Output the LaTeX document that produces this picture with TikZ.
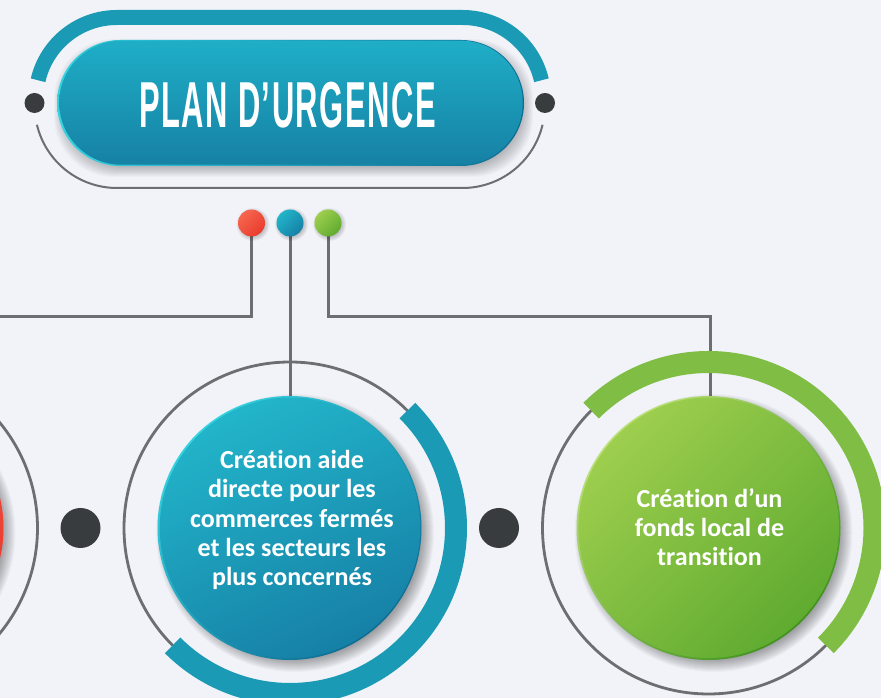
\documentclass[tikz,border=0pt]{standalone}
\usepackage{fontspec}
\setmainfont{Carlito}[Ligatures=NoCommon]
\newfontfamily\titlefont{Liberation Sans}[LetterSpace=5]
\usetikzlibrary{shapes.misc}
\definecolor{pagebg}{HTML}{F1F3F8}
\definecolor{linegray}{HTML}{6D6E71}
\definecolor{darkdot}{HTML}{393C3F}
\definecolor{tealband}{HTML}{1B9AB5}
\definecolor{tealA}{HTML}{22B5CA}
\definecolor{tealB}{HTML}{1680A6}
\definecolor{pillA}{HTML}{1FAEC7}
\definecolor{pillB}{HTML}{1681A4}
\definecolor{tealRimA}{HTML}{35D3E0}
\definecolor{tealRimB}{HTML}{0E6C92}
\definecolor{greenband}{HTML}{7FBD44}
\definecolor{greenA}{HTML}{9ECE4E}
\definecolor{greenB}{HTML}{5FAB30}
\definecolor{greenRimA}{HTML}{BCE07A}
\definecolor{greenRimB}{HTML}{3F921E}
\definecolor{redA}{HTML}{F6664F}
\definecolor{redB}{HTML}{E93B2E}
\pgfdeclarelayer{bgl}
\pgfdeclarelayer{conn}
\pgfsetlayers{bgl,conn,main}
\tikzset{
  x=1pt,y=1pt,
  connector/.style={draw=linegray,line width=3pt},
  ringline/.style={draw=linegray,line width=2.8pt},
  pillarc/.style={draw=linegray,line width=2pt},
  rim/.style n args={3}{circle,inner sep=0pt,minimum size=#1,left color=#2,right color=#3,shading angle=45},
  blackdot/.style={circle,fill=darkdot,inner sep=0pt,minimum size=#1},
  body/.style={text=white,align=center,font=\fontsize{26}{29.2}\selectfont\bfseries},
}
\newcommand{\softdisc}[3]{%
  \foreach \k in {-6,-5,...,7}{\fill[black,opacity=#3] (#1+5,#2-5) circle (132+\k);}}
\newcommand{\softdot}[2]{%
  \foreach \k in {-2,-1,...,3}{\fill[black,opacity=0.045] (#1+1.5,#2-1.5) circle (13.5+\k);}}
\begin{document}
\begin{tikzpicture}
\useasboundingbox (0,0) rectangle (881,698);
\begin{pgfonlayer}{bgl}
\fill[pagebg] (0,0) rectangle (881,698);
\end{pgfonlayer}

% pill shadow
\foreach \k in {-5,-4,...,6}{
  \fill[black,opacity=0.022,rounded corners=60pt] (60-\k,527-\k) rectangle (527+\k,653+\k);
}
% pill
\node[rounded rectangle,inner sep=0pt,minimum width=467,minimum height=126,left color=tealRimA,right color=tealRimB] (pillrim) at (290.5,595) {};
\node[rounded rectangle,inner sep=0pt,minimum width=463.5,minimum height=124,top color=pillA,bottom color=pillB] (pill) at (291,595.3) {};
\node[text=white,inner sep=0pt] (ptitle) at (287.5,593) {\titlefont\fontsize{65}{65}\selectfont\scalebox{0.475}[1]{\bfseries PLAN D’URGENCE}};
% pill arcs
\draw[tealband,line width=15pt] (117,599.5) ++(167:81) arc (167:90:81) -- (462.5,680.5) arc (90:13:81);
\draw[pillarc] (117,592.3) ++(193.4:82.3) arc (193.4:270:82.3) -- (462.5,510) arc (270:346.6:82.3);
\node[blackdot=20pt] (dotL) at (34.5,595) {};
\node[blackdot=20pt] (dotR) at (545,595) {};

% small dots
\softdot{251.5}{475}\softdot{290}{475}\softdot{328}{475}
\node[rim={27pt}{redA}{redB}] (sred) at (251.5,475) {};
\node[rim={27pt}{tealA}{tealB}] (steal) at (290,475) {};
\node[rim={27pt}{greenA}{greenB}] (sgreen) at (328,475) {};

% left
\coordinate (exitL) at (-2,381);
\softdisc{-128.5}{170}{0.028}
\node[rim={264pt}{redA}{redB}] (cred) at (-128.5,170) {};
\draw[ringline] (-128.5,170) circle (166);

% middle
\draw[ringline] (290,170) circle (166);
\softdisc{290}{170}{0.028}
\node[rim={264pt}{tealRimA}{tealRimB}] (cteal0) at (289.5,170) {};
\node[rim={260.5pt}{tealA}{tealB},shading angle=25] (cteal) at (290,170.2) {};
\node[body] (tteal) at (292,178) {Création aide\\directe pour les\\commerces fermés\\et les secteurs les\\plus concernés};
\draw[tealband,line width=22pt] (290,170) ++(45:166) arc (45:-135:166);

% right
\draw[ringline] (708.5,170) circle (166);
\softdisc{708.5}{170}{0.028}
\node[rim={264pt}{greenRimA}{greenRimB}] (cgreen0) at (708.5,170) {};
\node[rim={260.5pt}{greenA}{greenB}] (cgreen) at (708.7,170.2) {};
\node[body] (tgreen) at (709.5,171) {Création d’un\\fonds local de\\transition};
\draw[greenband,line width=22pt] (708.5,170) ++(135:166) arc (135:-45:166);

\node[blackdot=40pt] (sepA) at (80.5,170) {};
\node[blackdot=40pt] (sepB) at (499,170) {};

% connectors
\begin{pgfonlayer}{conn}
\coordinate (greendrop) at ([xshift=2pt]cgreen.north);
\draw[connector] (sred.center) -- (sred.center |- exitL) -- (exitL);
\draw[connector] (steal.center) -- (steal.center |- cteal.north);
\draw[connector] (sgreen.center) -- (sgreen.center |- exitL) -- (greendrop |- exitL) -- (greendrop);
\end{pgfonlayer}
\end{tikzpicture}
\end{document}
